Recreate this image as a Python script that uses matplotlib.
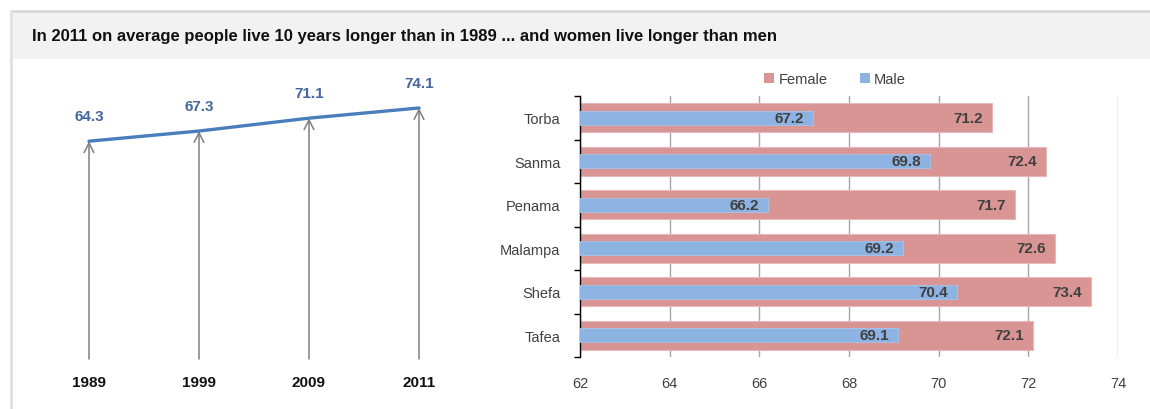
#!/usr/bin/env python3
import numpy as np
import matplotlib
matplotlib.use('Agg')
import matplotlib.pyplot as plt
from matplotlib.patches import Rectangle, Patch
from matplotlib.lines import Line2D

plt.rcParams['font.family'] = ['Liberation Sans', 'DejaVu Sans']

# left panel: average life expectancy by census year
years = ['1989', '1999', '2009', '2011']
life_exp = [64.3, 67.3, 71.1, 74.1]

# right panel: life expectancy by province and sex
provinces = ['Torba', 'Sanma', 'Penama', 'Malampa', 'Shefa', 'Tafea']
female = [71.2, 72.4, 71.7, 72.6, 73.4, 72.1]
male = [67.2, 69.8, 66.2, 69.2, 70.4, 69.1]
x_ticks = [62, 64, 66, 68, 70, 72, 74]

title = 'In 2011 on average people live 10 years longer than in 1989 ... and women live longer than men'

W, H = 1150, 410
fig = plt.figure(figsize=(W / 100, H / 100), dpi=100)


def px_box(x0, y0, x1, y1):
    # pixel box (top-left origin) -> figure fraction rect
    return [x0 / W, 1 - y1 / H, (x1 - x0) / W, (y1 - y0) / H]


# header band and left border
fig.patches.append(Rectangle((12 / W, 1 - 60 / H), 1 - 12 / W, 48 / H,
                             transform=fig.transFigure, facecolor='#f2f2f2',
                             edgecolor='none', zorder=0))
fig.lines.append(Line2D([12 / W, 1], [1 - 12 / H, 1 - 12 / H], transform=fig.transFigure,
                        color='#d9d9d9', lw=2))
fig.lines.append(Line2D([11 / W, 11 / W], [0, 1 - 12 / H], transform=fig.transFigure,
                        color='#e0e0e0', lw=2))
fig.text(32 / W, 1 - 36 / H, title, fontsize=12, fontweight='bold',
         va='center', ha='left', color='#111111')

# ---- left: line with drop arrows
ax1 = fig.add_axes(px_box(34, 89, 474, 360))
xs = np.arange(len(years))
ax1.plot(xs, life_exp, color='#4a7ebb', lw=2.4, solid_capstyle='round', zorder=3)
for i, v in enumerate(life_exp):
    ax1.annotate('', xy=(i, v), xytext=(i, 0),
                 arrowprops=dict(arrowstyle='->, head_width=0.35, head_length=0.7',
                                 color='#7f7f7f', lw=1.1, shrinkA=0, shrinkB=0),
                 zorder=2)
    ax1.annotate(f'{v:.1f}', (i, v), xytext=(0, 25), textcoords='offset pixels',
                 ha='center', va='center', fontsize=11, fontweight='bold',
                 color='#44679f')
    ax1.annotate(years[i], (i, 0), xytext=(0, -23), textcoords='offset pixels',
                 ha='center', va='center', fontsize=11, fontweight='bold',
                 color='#111111')
ax1.set_xlim(-0.5, 3.5)
ax1.set_ylim(0, 80)
ax1.axis('off')

# ---- right: overlapping horizontal bars
ax2 = fig.add_axes(px_box(580, 97, 1118, 358))
ys = np.arange(len(provinces))
ax2.barh(ys, female, height=0.67, left=0, color='#d99594', edgecolor='#e6b9b8',
         lw=0.8, zorder=2)
ax2.barh(ys, male, height=0.32, left=0, color='#8db3e2', edgecolor='#a9c4e8',
         lw=0.6, zorder=3)
for y, f, m in zip(ys, female, male):
    ax2.annotate(f'{f:.1f}', (f, y), xytext=(-9, 0), textcoords='offset pixels',
                 ha='right', va='center', fontsize=11, fontweight='bold',
                 color='#404040', zorder=4)
    ax2.annotate(f'{m:.1f}', (m, y), xytext=(-9, 0), textcoords='offset pixels',
                 ha='right', va='center', fontsize=11, fontweight='bold',
                 color='#404040', zorder=4)
ax2.set_xlim(62, 74)
ax2.set_ylim(len(provinces) - 0.5, -0.5)
ax2.set_xticks(x_ticks)
ax2.set_xticklabels([str(t) for t in x_ticks], color='#404040', fontsize=10.5)
ax2.tick_params(axis='x', length=0, pad=14)
ax2.set_yticks(ys)
ax2.set_yticklabels(provinces, color='#404040', fontsize=10.5)
ax2.set_yticks(np.arange(len(provinces) + 1) - 0.5, minor=True)
ax2.tick_params(axis='y', which='major', length=0, pad=14)
ax2.tick_params(axis='y', which='minor', length=4, width=1, color='#000000')
ax2.grid(axis='x', color='#a6a6a6', lw=1, zorder=0)
ax2.set_axisbelow(True)
for s in ['top', 'right', 'bottom']:
    ax2.spines[s].set_visible(False)
ax2.spines['left'].set_color('#000000')
ax2.spines['left'].set_linewidth(1)

fig.legend(handles=[Patch(facecolor='#d99594', label='Female'),
                    Patch(facecolor='#8db3e2', label='Male')],
           loc='center', bbox_to_anchor=(835 / W, 1 - 80 / H), ncol=2,
           frameon=False, fontsize=10.5, handlelength=0.7, handleheight=0.7,
           handletextpad=0.3, columnspacing=2.2, labelcolor='#404040')

fig.savefig('out.png', dpi=100, facecolor='white')
